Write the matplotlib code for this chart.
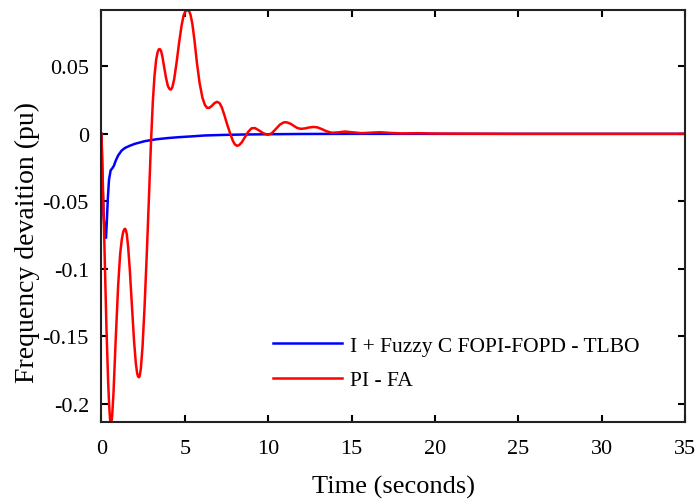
import numpy as np
import matplotlib
matplotlib.use("Agg")
import matplotlib.pyplot as plt

# values
t_red = [0, 0.1, 0.2, 0.3, 0.4, 0.46, 0.51, 0.55, 0.59, 0.64, 0.72, 0.85, 1.0, 1.12,
         1.22, 1.3, 1.36, 1.41, 1.46, 1.52, 1.6, 1.7, 1.8, 1.95, 2.06, 2.14, 2.2, 2.24,
         2.29, 2.36, 2.46, 2.58, 2.72, 2.85, 2.97, 3.08, 3.18, 3.28, 3.36, 3.43, 3.5,
         3.57, 3.65, 3.75, 3.87, 3.98, 4.08, 4.16, 4.25, 4.36, 4.5, 4.65, 4.8, 4.93,
         5.04, 5.12, 5.19, 5.26, 5.34, 5.45, 5.58, 5.72, 5.88, 6.05, 6.2, 6.33, 6.45,
         6.6, 6.78, 6.93, 7.08, 7.22, 7.38, 7.55, 7.72, 7.88, 8.0, 8.13, 8.26, 8.42,
         8.6, 8.8, 9.0, 9.2, 9.45, 9.7, 9.96, 10.2, 10.45, 10.7, 10.9, 11.0, 11.15,
         11.35, 11.55, 11.75, 11.96, 12.2, 12.45, 12.72, 12.95, 13.2, 13.5, 13.82,
         14.2, 14.6, 15.0, 15.6, 16.2, 16.7, 17.3, 18, 19, 20, 22, 25, 35]
f_red = [0, -0.045, -0.095, -0.145, -0.184, -0.201, -0.211, -0.2155, -0.2145, -0.209,
         -0.192, -0.153, -0.112, -0.089, -0.078, -0.0728, -0.0708, -0.0703, -0.0712,
         -0.0745, -0.084, -0.101, -0.122, -0.153, -0.170, -0.1775, -0.1798, -0.1803,
         -0.1795, -0.174, -0.158, -0.129, -0.088, -0.046, -0.006, 0.024, 0.043, 0.055,
         0.0602, 0.0625, 0.0628, 0.0615, 0.0575, 0.050, 0.0415, 0.0355, 0.0332,
         0.0328, 0.0345, 0.0405, 0.0525, 0.067, 0.080, 0.0880, 0.0908, 0.0916,
         0.0917, 0.0908, 0.0882, 0.0815, 0.069, 0.053, 0.038, 0.027, 0.0215, 0.0193,
         0.0192, 0.0205, 0.0228, 0.0237, 0.0228, 0.0195, 0.0135, 0.0065, 0.0003,
         -0.0052, -0.0078, -0.0089, -0.0083, -0.0062, -0.0025, 0.0015, 0.0041,
         0.0043, 0.0025, 0.0005, -0.0007, 0.0003, 0.0035, 0.0068, 0.0083, 0.0086,
         0.0084, 0.0074, 0.0058, 0.0043, 0.0037, 0.0040, 0.0047, 0.0051, 0.0048,
         0.0036, 0.0019, 0.0008, 0.0011, 0.0017, 0.0012, 0.0005, 0.0009, 0.0012,
         0.0007, 0.0003, 0.0005, 0.0002, 0.0001, 0, 0]

t_blue = [0, 0.05, 0.12, 0.2, 0.27, 0.32, 0.38, 0.45, 0.55, 0.65, 0.75, 0.85, 1.0, 1.2,
          1.4, 1.7, 2.0, 2.6, 3.3, 4.0, 4.6, 5.5, 6.2, 7.3, 8.5, 10, 12, 15, 35]
f_blue = [0, -0.03, -0.06, -0.072, -0.077, -0.065, -0.048, -0.034, -0.027, -0.0255,
          -0.0235, -0.020, -0.016, -0.0125, -0.0105, -0.0088, -0.0074, -0.0054, -0.0040,
          -0.0031, -0.0025, -0.0018, -0.0012, -0.0008, -0.0005, -0.0003, -0.0001, 0, 0]

x_ticks = [0, 5, 10, 15, 20, 25, 30, 35]
y_ticks = [-0.2, -0.15, -0.1, -0.05, 0, 0.05]
y_labels = ["-0.2", "-0.15", "-0.1", "-0.05", "0", "0.05"]

plt.rcParams['font.family'] = ['Liberation Serif', 'DejaVu Serif']

fig = plt.figure(figsize=(6.98, 5.02), dpi=100)
ax = fig.add_axes([0.1454, 0.1564, 0.836, 0.8216])

ax.plot(t_blue, f_blue, color='#0000ff', lw=1.8, label='I + Fuzzy C FOPI-FOPD - TLBO')
ax.plot(t_red, f_red, color='#ff0000', lw=1.8, label='PI - FA')

ax.set_xlim(0, 35)
ax.set_ylim(-0.2138, 0.0917)
ax.set_xticks(x_ticks)
ax.set_xticklabels([str(v) for v in x_ticks])
ax.set_yticks(y_ticks)
ax.set_yticklabels(y_labels)
ax.tick_params(direction='in', length=5, width=1.5, labelsize=16,
               top=True, right=True)
ax.tick_params(axis='x', pad=12)
ax.tick_params(axis='y', pad=9)
for s in ax.spines.values():
    s.set_linewidth(1.5)
    s.set_color('#222222')

ax.set_xlabel('Time (seconds)', fontsize=19, labelpad=12)
ax.set_ylabel('Frequency devaition (pu)', fontsize=20)
ax.yaxis.set_label_coords(-0.106, 0.44)

ax.legend(loc='lower left', bbox_to_anchor=(0.261, 0.031), frameon=False,
          fontsize=15.5, handlelength=3.2, handletextpad=0.37, labelspacing=0.68)

fig.savefig('out.png', dpi=100)
